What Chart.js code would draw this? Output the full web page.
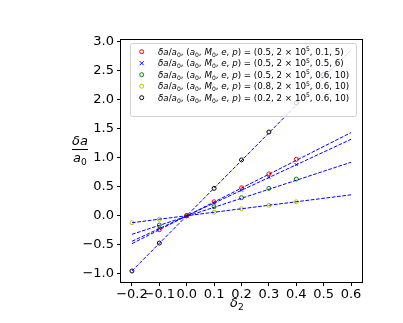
<!DOCTYPE html>
<html>
<head>
<meta charset="utf-8">
<script src="https://cdn.jsdelivr.net/npm/chart.js@4.4.1/dist/chart.umd.min.js"></script>
<style>
html, body { margin: 0; padding: 0; background: #fff; }
</style>
</head>
<body>
<canvas id="c" width="403" height="323"></canvas>
<script>
const xTicks = [-0.2, -0.1, 0.0, 0.1, 0.2, 0.3, 0.4, 0.5, 0.6];
const yTicks = [-1.0, -0.5, 0.0, 0.5, 1.0, 1.5, 2.0, 2.5, 3.0];

// legend parameters (a0, M0, e, p)
const aVals = ['0.5', '0.5', '0.5', '0.8', '0.2'];
const eVals = ['0.1', '0.5', '0.6', '0.6', '0.6'];
const pVals = ['5', '6', '10', '10', '10'];

const colors = ['#ff0000', '#0000ff', '#008000', '#bfbf00', '#000000'];
const markers = ['circle', 'crossRot', 'circle', 'circle', 'circle'];

// measured points
const redX = [-0.1, 0.0, 0.1, 0.2, 0.3, 0.4];
const redY = [-0.24, 0.0, 0.24, 0.48, 0.72, 0.97];
const blueX = [-0.1, 0.0, 0.1, 0.2, 0.3, 0.4];
const blueY = [-0.22, 0.0, 0.22, 0.44, 0.66, 0.88];
const greenX = [-0.1, 0.0, 0.1, 0.2, 0.3, 0.4];
const greenY = [-0.16, 0.0, 0.155, 0.31, 0.47, 0.63];
const yellowX = [-0.2, -0.1, 0.0, 0.1, 0.2, 0.3, 0.4];
const yellowY = [-0.12, -0.06, 0.0, 0.06, 0.12, 0.18, 0.24];
const blackX = [-0.2, -0.1, 0.0, 0.1, 0.2, 0.3, 0.4, 0.5];
const blackY = [-0.95, -0.47, 0.0, 0.47, 0.96, 1.44, 1.94, 2.43];

// fitted lines, ends at x = -0.2 and x = 0.6
const fitX = [-0.2, 0.6];
const redFit = [-0.48, 1.43];
const blueFit = [-0.44, 1.315];
const greenFit = [-0.32, 0.92];
const yellowFit = [-0.12, 0.36];
const blackFit = [-0.95, 2.85];

const pointsX = [redX, blueX, greenX, yellowX, blackX];
const pointsY = [redY, blueY, greenY, yellowY, blackY];
const fits = [redFit, blueFit, greenFit, yellowFit, blackFit];

const FONT = '"DejaVu Sans", sans-serif';
const zip = (xs, ys) => xs.map((x, i) => ({ x, y: ys[i] }));

const datasets = [];
pointsX.forEach((xs, i) => {
    datasets.push({
        data: zip(xs, pointsY[i]),
        showLine: false,
        borderColor: colors[i],
        backgroundColor: 'rgba(0,0,0,0)',
        pointStyle: markers[i],
        pointRadius: 2,
        pointBorderWidth: 1,
        order: 2,
    });
});
// fits drawn over the markers
fits.forEach(f => {
    datasets.push({
        data: zip(fitX, f),
        showLine: true,
        borderColor: '#0000ff',
        backgroundColor: 'rgba(0,0,0,0)',
        borderWidth: 1,
        borderDash: [3.7, 1.6],
        pointRadius: 0,
        fill: false,
        tension: 0,
        order: 1,
    });
});

function drawRich(ctx, segs, x, y, size) {
    let cx = x;
    for (const [st, text] of segs) {
        let fs = size, dy = 0;
        if (st === 'sub') { fs = size * 0.7; dy = size * 0.22; }
        if (st === 'sup') { fs = size * 0.7; dy = -size * 0.42; }
        ctx.font = (st === 'i' ? 'italic ' : '') + fs + 'px ' + FONT;
        ctx.fillText(text, cx, y + dy);
        cx += ctx.measureText(text).width;
    }
    return cx - x;
}

function legendSegs(i) {
    return [
        ['i', 'δa'], ['n', '/'], ['i', 'a'], ['sub', '0'], ['n', ', ('],
        ['i', 'a'], ['sub', '0'], ['n', ', '], ['i', 'M'], ['sub', '0'], ['n', ', '],
        ['i', 'e'], ['n', ', '], ['i', 'p'],
        ['n', ') = (' + aVals[i] + ', 2 × 10'], ['sup', '5'],
        ['n', ', ' + eVals[i] + ', ' + pVals[i] + ')'],
    ];
}

const decor = {
    id: 'decor',
    afterDatasetsDraw(chart) {
        const ctx = chart.ctx;
        const a = chart.chartArea;
        ctx.save();
        // frame
        ctx.strokeStyle = '#000';
        ctx.lineWidth = 1;
        ctx.strokeRect(Math.round(a.left) - 0.5, Math.round(a.top) + 0.5,
            Math.round(a.right - a.left) + 1, Math.round(a.bottom - a.top));

        // legend box
        const bx = 130.5, by = 43.5, bw = 226, bh = 73, r = 2;
        ctx.beginPath();
        ctx.moveTo(bx + r, by);
        ctx.arcTo(bx + bw, by, bx + bw, by + bh, r);
        ctx.arcTo(bx + bw, by + bh, bx, by + bh, r);
        ctx.arcTo(bx, by + bh, bx, by, r);
        ctx.arcTo(bx, by, bx + bw, by, r);
        ctx.closePath();
        ctx.fillStyle = 'rgba(255,255,255,0.8)';
        ctx.fill();
        ctx.strokeStyle = '#d0d0d0';
        ctx.lineWidth = 1;
        ctx.stroke();

        ctx.textBaseline = 'alphabetic';
        ctx.textAlign = 'left';
        for (let i = 0; i < 5; i++) {
            const cy = 51.7 + i * 11.5;
            ctx.strokeStyle = colors[i];
            ctx.lineWidth = 1;
            ctx.beginPath();
            if (markers[i] === 'circle') {
                ctx.arc(141.7, cy, 2, 0, Math.PI * 2);
            } else {
                ctx.moveTo(139.7, cy - 2); ctx.lineTo(143.7, cy + 2);
                ctx.moveTo(139.7, cy + 2); ctx.lineTo(143.7, cy - 2);
            }
            ctx.stroke();
            ctx.fillStyle = '#000';
            drawRich(ctx, legendSegs(i), 158, cy + 3, 8.7);
        }

        // y label as fraction
        ctx.fillStyle = '#000';
        ctx.font = 'italic 13px ' + FONT;
        const nw = ctx.measureText('δa').width;
        ctx.fillText('δa', 80 - nw / 2, 145);
        ctx.fillRect(72, 149, 16, 1);
        const dw = ctx.measureText('a').width + 6;
        drawRich(ctx, [['i', 'a'], ['sub', '0']], 80 - dw / 2, 162, 13);

        // x label
        const xw = 8 + 6;
        drawRich(ctx, [['i', 'δ'], ['sub', '2']], 237 - xw / 2, 307, 13);
        ctx.restore();
    }
};

const fmt = v => (v < 0 ? '−' : '') + Math.abs(v).toFixed(1);

new Chart(document.getElementById('c').getContext('2d'), {
    type: 'scatter',
    data: { datasets },
    options: {
        responsive: false,
        animation: false,
        devicePixelRatio: 1,
        layout: { padding: { left: 0, top: 39, right: 41, bottom: 0 } },
        plugins: { legend: { display: false }, tooltip: { enabled: false } },
        scales: {
            x: {
                type: 'linear',
                min: -0.24, max: 0.64,
                afterBuildTicks: s => { s.ticks = xTicks.map(v => ({ value: v })); },
                afterFit: s => { s.height = 41; },
                ticks: {
                    callback: fmt, autoSkip: false, maxRotation: 0, minRotation: 0,
                    color: '#000', font: { family: FONT, size: 13 }, padding: 1,
                },
                grid: { drawOnChartArea: false, drawTicks: true, tickLength: 4, color: '#000' },
                border: { display: false },
            },
            y: {
                type: 'linear',
                min: -1.14, max: 3.04,
                afterBuildTicks: s => { s.ticks = yTicks.map(v => ({ value: v })); },
                afterFit: s => { s.width = 121; },
                ticks: {
                    callback: fmt, color: '#000', font: { family: FONT, size: 13 }, padding: 3,
                },
                grid: { drawOnChartArea: false, drawTicks: true, tickLength: 4, color: '#000' },
                border: { display: false },
            },
        },
    },
    plugins: [decor],
});
</script>
</body>
</html>
